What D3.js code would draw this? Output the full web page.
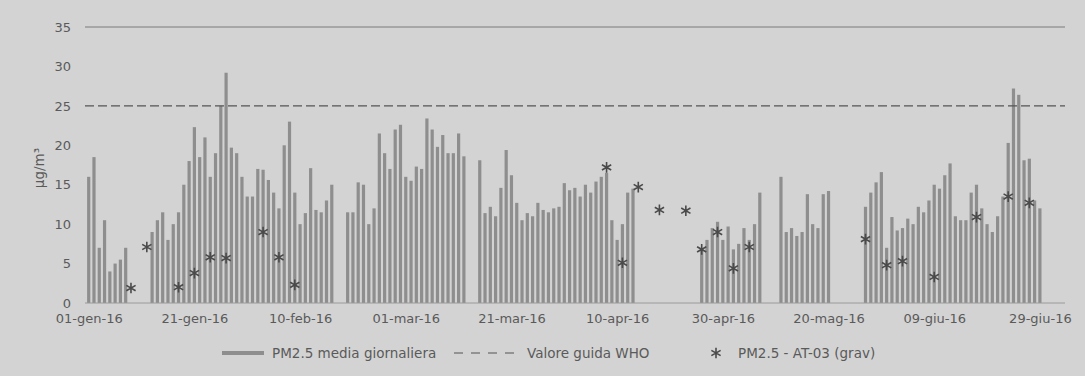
<!DOCTYPE html>
<html><head><meta charset="utf-8">
<script src="https://cdn.jsdelivr.net/npm/d3@7/dist/d3.min.js"></script>
<style>html,body{margin:0;padding:0;background:#d3d3d3;} svg{display:block}</style>
</head><body><svg id="c" width="1085" height="376"></svg>
<script>
// ---- data ----
const startDate = "2016-01-01";
// daily PM2.5 means, 01-gen-16 .. 30-giu-16 (null = no data)
const pm25Daily = [
 16, 18.5, 7, 10.5, 4, 5, 5.5, 7, null, null, null, null, 9, 10.5, 11.5, 8, 10, 11.5, 15, 18, 22.3, 18.5, 21, 16, 19, 25, 29.2, 19.7, 19, 16, 13.5,
 13.5, 17, 16.9, 15.6, 14, 12, 20, 23, 14, 10, 11.4, 17.1, 11.8, 11.5, 13, 15, null, null, 11.5, 11.5, 15.3, 15, 10, 12, 21.5, 19, 17, 22, 22.6,
 16, 15.5, 17.3, 17, 23.4, 22, 19.8, 21.3, 19, 19, 21.5, 18.6, null, null, 18.1, 11.4, 12.2, 11, 14.6, 19.4, 16.2, 12.7, 10.5, 11.4, 11, 12.7, 11.8, 11.5, 12, 12.2, 15.2,
 14.3, 14.6, 13.5, 15, 14, 15.4, 16, 16.5, 10.5, 8, 10, 14, 14.5, null, null, null, null, null, null, null, null, null, null, null, null, 6.7, 8, 9.5, 10.3, 8,
 9.7, 6.8, 7.5, 9.5, 8, 10, 14, null, null, null, 16, 9, 9.5, 8.5, 9, 13.8, 10, 9.5, 13.8, 14.2, null, null, null, null, null, null, 12.2, 14, 15.3, 16.6, 7,
 10.9, 9.2, 9.5, 10.7, 10, 12.2, 11.5, 13, 15, 14.5, 16.2, 17.7, 11, 10.5, 10.5, 14, 15, 12, 10, 9, 11, 13.5, 20.3, 27.2, 26.4, 18.1, 18.3, 13, 12, null
];
const gravDates = ["2016-01-09","2016-01-12","2016-01-18","2016-01-21","2016-01-24","2016-01-27","2016-02-03","2016-02-06","2016-02-09",
 "2016-04-08","2016-04-11","2016-04-14","2016-04-18","2016-04-23","2016-04-26","2016-04-29","2016-05-02","2016-05-05",
 "2016-05-27","2016-05-31","2016-06-03","2016-06-09","2016-06-17","2016-06-23","2016-06-27"];
const gravValues = [1.9, 7.1, 2.0, 3.8, 5.8, 5.7, 9.0, 5.8, 2.3,
 17.2, 5.1, 14.7, 11.8, 11.7, 6.8, 9.0, 4.4, 7.1,
 8.1, 4.8, 5.3, 3.3, 10.9, 13.5, 12.7];
const whoGuide = 25;
const tickDates = ["2016-01-01","2016-01-21","2016-02-10","2016-03-01","2016-03-21","2016-04-10","2016-04-30","2016-05-20","2016-06-09","2016-06-29"];
const tickLabels = ["01-gen-16","21-gen-16","10-feb-16","01-mar-16","21-mar-16","10-apr-16","30-apr-16","20-mag-16","09-giu-16","29-giu-16"];
const yTicks = [0, 5, 10, 15, 20, 25, 30, 35];
const legendLabels = ["PM2.5 media giornaliera", "Valore guida WHO", "PM2.5 - AT-03 (grav)"];

// ---- chart ----
(function () {
const parse = d3.utcParse("%Y-%m-%d");
const svg = d3.select("#c");
const W = 1085, H = 376;
const pLeft = 85, pRight = 1065, pTop = 27, pBottom = 303;
const font = "DejaVu Sans, sans-serif";
const txt = "#5a5a5a";

svg.append("rect").attr("width", W).attr("height", H).attr("fill", "#d3d3d3");

const x = d3.scaleTime().domain([parse("2016-01-01"), parse("2016-06-29")]).range([88.7, 1039.9]);
const y = d3.scaleLinear().domain([0, 35]).range([pBottom, pTop]);

const start = parse(startDate);
const daily = pm25Daily.map((v, i) => ({ date: d3.utcDay.offset(start, i), v }));
const barW = 3.2;

// top gridline (35)
svg.append("line").attr("x1", pLeft).attr("x2", pRight).attr("y1", y(35)).attr("y2", y(35))
  .attr("stroke", "#7a7a7a").attr("stroke-width", 1);

// bars
svg.append("g").selectAll("rect").data(daily.filter(d => d.v != null)).join("rect")
  .attr("x", d => x(d.date) - barW / 2).attr("width", barW)
  .attr("y", d => y(d.v)).attr("height", d => y(0) - y(d.v))
  .attr("fill", "#8e8e8e");

// WHO guide line
svg.append("line").attr("x1", pLeft).attr("x2", pRight).attr("y1", y(whoGuide)).attr("y2", y(whoGuide))
  .attr("stroke", "#555").attr("stroke-width", 1.2).attr("stroke-dasharray", "9,4");

// baseline
svg.append("line").attr("x1", pLeft).attr("x2", pRight).attr("y1", y(0)).attr("y2", y(0))
  .attr("stroke", "#9a9a9a").attr("stroke-width", 1);

// gravimetric points
const star = d3.symbol().type(d3.symbolAsterisk).size(80);
svg.append("g").selectAll("path").data(gravDates.map((d, i) => ({ date: parse(d), v: gravValues[i] }))).join("path")
  .attr("transform", d => `translate(${x(d.date)},${y(d.v)})`)
  .attr("d", star).attr("fill", "none").attr("stroke", "#4a4a4a").attr("stroke-width", 1.6);

// axes
const xAxis = svg.append("g").attr("transform", `translate(0,${pBottom})`)
  .call(d3.axisBottom(x).tickValues(tickDates.map(parse)).tickFormat((d, i) => tickLabels[i]).tickSize(0).tickPadding(11));
xAxis.select(".domain").remove();
xAxis.selectAll("text").attr("font-family", font).attr("font-size", 13).attr("fill", txt);

const yAxis = svg.append("g").attr("transform", `translate(${pLeft},0)`)
  .call(d3.axisLeft(y).tickValues(yTicks).tickSize(0).tickPadding(14));
yAxis.select(".domain").remove();
yAxis.selectAll("text").attr("font-family", font).attr("font-size", 13).attr("fill", txt);

svg.append("text").attr("transform", "translate(44,168) rotate(-90)")
  .attr("text-anchor", "middle").attr("font-family", font).attr("font-size", 13.5).attr("fill", txt)
  .text("µg/m³");

// legend
const ly = 353;
const lg = svg.append("g");
lg.append("line").attr("x1", 222).attr("x2", 264).attr("y1", ly).attr("y2", ly).attr("stroke", "#8e8e8e").attr("stroke-width", 4);
lg.append("text").attr("x", 272).attr("y", ly).attr("dy", "0.35em").text(legendLabels[0]);
lg.append("line").attr("x1", 454).attr("x2", 520).attr("y1", ly).attr("y2", ly).attr("stroke", "#555").attr("stroke-width", 1.2).attr("stroke-dasharray", "9,8");
lg.append("text").attr("x", 527).attr("y", ly).attr("dy", "0.35em").text(legendLabels[1]);
lg.append("path").attr("transform", `translate(716,${ly})`).attr("d", star).attr("fill", "none").attr("stroke", "#4a4a4a").attr("stroke-width", 1.6);
lg.append("text").attr("x", 738).attr("y", ly).attr("dy", "0.35em").text(legendLabels[2]);
lg.selectAll("text").attr("font-family", font).attr("font-size", 13.5).attr("fill", txt);
})();
</script>
</body></html>
